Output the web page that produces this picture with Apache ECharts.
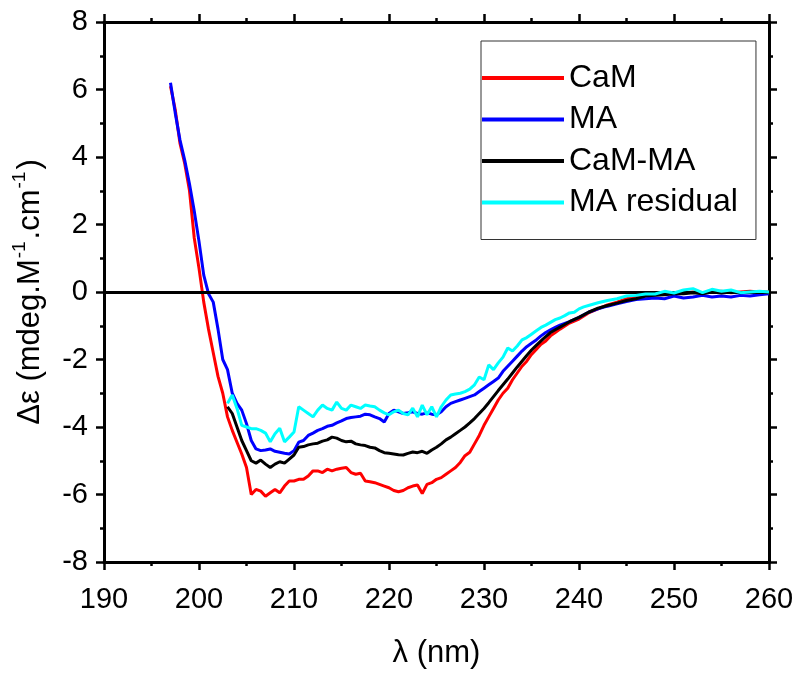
<!DOCTYPE html>
<html>
<head>
<meta charset="utf-8">
<script src="https://cdn.jsdelivr.net/npm/echarts@6/dist/echarts.min.js"></script>
<style>html,body{margin:0;padding:0;background:#fff}#c{width:800px;height:678px}</style>
</head>
<body>
<div id="c"></div>
<script>
const seriesNames = ['CaM', 'MA', 'CaM-MA', 'MA residual'];
const seriesColors = ['#ff0000', '#0000ff', '#000000', '#00ffff'];
const xTicks = [190, 200, 210, 220, 230, 240, 250, 260];
const yTicks = [-8, -6, -4, -2, 0, 2, 4, 6, 8];

const camData = [
[197,6.1],[197.5,5.4],[198,4.4],[198.5,3.8],[199,3.0],[199.5,1.6],[200,0.7],[200.5,-0.3],[201,-1.1],[201.5,-1.8],
[202,-2.5],[202.5,-3.0],[203,-3.7],[203.5,-4.1],[204,-4.45],[204.5,-4.8],[205,-5.2],[205.5,-6.0],[206,-5.85],[206.5,-5.9],
[207,-6.05],[207.5,-5.95],[208,-5.85],[208.5,-5.95],[209,-5.75],[209.5,-5.6],[210,-5.6],[210.5,-5.55],[211,-5.55],[211.5,-5.45],
[212,-5.3],[212.5,-5.3],[213,-5.35],[213.5,-5.25],[214,-5.3],[214.5,-5.25],[215,-5.22],[215.5,-5.2],[216,-5.35],[216.5,-5.4],
[217,-5.37],[217.5,-5.6],[218,-5.62],[218.5,-5.65],[219,-5.7],[219.5,-5.75],[220,-5.8],[220.5,-5.88],[221,-5.92],[221.5,-5.88],
[222,-5.8],[222.5,-5.75],[223,-5.72],[223.5,-5.97],[224,-5.7],[224.5,-5.65],[225,-5.55],[225.5,-5.5],[226,-5.4],[226.5,-5.3],
[227,-5.2],[227.5,-5.05],[228,-4.85],[228.5,-4.75],[229,-4.5],[229.5,-4.25],[230,-3.95],[230.5,-3.7],[231,-3.45],[231.5,-3.2],
[232,-3.0],[232.5,-2.85],[233,-2.6],[233.5,-2.4],[234,-2.2],[234.5,-2.05],[235,-1.85],[235.5,-1.7],[236,-1.55],[236.5,-1.45],
[237,-1.3],[237.5,-1.2],[238,-1.1],[239,-0.92],[240,-0.8],[241,-0.62],[242,-0.5],[243,-0.38],[244,-0.3],[245,-0.2],
[246,-0.15],[247,-0.1],[248,-0.08],[249,-0.05],[250,-0.05],[251,-0.03],[252,0.0],[253,-0.03],[254,0.0],[255,0.02],
[256,-0.02],[257,0.0],[258,0.02],[259,0.0],[260,0.0]
];

const maData = [
[197,6.2],[197.5,5.3],[198,4.5],[198.5,3.9],[199,3.2],[199.5,2.4],[200,1.5],[200.5,0.5],[201,-0.05],[201.5,-0.3],
[202,-1.1],[202.5,-2.0],[203,-2.3],[203.5,-3.0],[204,-3.3],[204.5,-3.5],[205,-3.9],[205.5,-4.4],[206,-4.65],[206.5,-4.7],
[207,-4.68],[207.5,-4.65],[208,-4.72],[208.5,-4.75],[209,-4.78],[209.5,-4.8],[210,-4.7],[210.5,-4.45],[211,-4.4],[211.5,-4.25],
[212,-4.18],[212.5,-4.1],[213,-4.05],[213.5,-3.98],[214,-3.95],[214.5,-3.88],[215,-3.82],[215.5,-3.75],[216,-3.72],[216.5,-3.7],
[217,-3.68],[217.5,-3.62],[218,-3.64],[218.5,-3.7],[219,-3.75],[219.5,-3.85],[220,-3.6],[220.5,-3.5],[221,-3.55],[221.5,-3.6],
[222,-3.58],[222.5,-3.55],[223,-3.6],[223.5,-3.62],[224,-3.58],[224.5,-3.62],[225,-3.64],[225.5,-3.55],[226,-3.4],[226.5,-3.3],
[227,-3.25],[227.5,-3.2],[228,-3.15],[228.5,-3.1],[229,-3.05],[229.5,-2.95],[230,-2.85],[230.5,-2.75],[231,-2.65],[231.5,-2.55],
[232,-2.35],[232.5,-2.2],[233,-2.05],[233.5,-1.9],[234,-1.75],[234.5,-1.62],[235,-1.52],[235.5,-1.42],[236,-1.3],[236.5,-1.2],
[237,-1.12],[237.5,-1.05],[238,-0.98],[239,-0.88],[240,-0.75],[241,-0.6],[242,-0.5],[243,-0.42],[244,-0.35],[245,-0.28],
[246,-0.22],[247,-0.2],[248,-0.18],[249,-0.2],[250,-0.12],[251,-0.18],[252,-0.15],[253,-0.1],[254,-0.15],[255,-0.12],
[256,-0.15],[257,-0.1],[258,-0.12],[259,-0.08],[260,-0.05]
];

const camMaData = [
[203,-3.4],[203.5,-3.6],[204,-4.0],[204.5,-4.4],[205,-4.7],[205.5,-5.0],[206,-5.07],[206.5,-4.98],[207,-5.1],[207.5,-5.2],
[208,-5.1],[208.5,-5.03],[209,-5.07],[209.5,-4.95],[210,-4.83],[210.5,-4.6],[211,-4.58],[211.5,-4.53],[212,-4.5],[212.5,-4.48],
[213,-4.42],[213.5,-4.38],[214,-4.3],[214.5,-4.33],[215,-4.4],[215.5,-4.44],[216,-4.42],[216.5,-4.5],[217,-4.53],[217.5,-4.55],
[218,-4.6],[218.5,-4.62],[219,-4.7],[219.5,-4.76],[220,-4.78],[220.5,-4.8],[221,-4.82],[221.5,-4.83],[222,-4.78],[222.5,-4.74],
[223,-4.76],[223.5,-4.72],[224,-4.78],[224.5,-4.68],[225,-4.6],[225.5,-4.5],[226,-4.38],[226.5,-4.3],[227,-4.2],[227.5,-4.1],
[228,-4.0],[228.5,-3.88],[229,-3.75],[229.5,-3.6],[230,-3.45],[230.5,-3.28],[231,-3.1],[231.5,-2.92],[232,-2.75],[232.5,-2.58],
[233,-2.4],[233.5,-2.22],[234,-2.05],[234.5,-1.88],[235,-1.72],[235.5,-1.58],[236,-1.45],[236.5,-1.32],[237,-1.2],[237.5,-1.12],
[238,-1.04],[239,-0.88],[240,-0.75],[241,-0.6],[242,-0.48],[243,-0.4],[244,-0.33],[245,-0.25],[246,-0.2],[247,-0.12],
[248,-0.1],[249,-0.08],[250,-0.05],[251,-0.05],[252,-0.02],[253,-0.05],[254,0.0],[255,-0.03],[256,0.0],[257,-0.02],
[258,0.0],[259,0.0],[260,-0.02]
];

const maResidualData = [
[203,-3.3],[203.5,-3.05],[204,-3.45],[204.5,-3.95],[205,-4.0],[205.5,-4.05],[206,-4.05],[206.5,-4.1],[207,-4.18],[207.5,-4.44],
[208,-4.2],[208.5,-4.04],[209,-4.44],[209.5,-4.3],[210,-4.15],[210.5,-3.4],[211,-3.5],[211.5,-3.6],[212,-3.7],[212.5,-3.5],
[213,-3.35],[213.5,-3.45],[214,-3.5],[214.5,-3.26],[215,-3.45],[215.5,-3.5],[216,-3.35],[216.5,-3.4],[217,-3.45],[217.5,-3.35],
[218,-3.38],[218.5,-3.4],[219,-3.5],[219.5,-3.58],[220,-3.64],[220.5,-3.55],[221,-3.5],[221.5,-3.6],[222,-3.64],[222.5,-3.44],
[223,-3.7],[223.5,-3.35],[224,-3.64],[224.5,-3.4],[225,-3.7],[225.5,-3.4],[226,-3.2],[226.5,-3.05],[227,-3.02],[227.5,-3.0],
[228,-2.95],[228.5,-2.88],[229,-2.75],[229.5,-2.52],[230,-2.6],[230.5,-2.16],[231,-2.3],[231.5,-2.1],[232,-1.93],[232.5,-1.66],
[233,-1.75],[233.5,-1.6],[234,-1.42],[234.5,-1.35],[235,-1.25],[235.5,-1.15],[236,-1.05],[236.5,-0.98],[237,-0.9],[237.5,-0.82],
[238,-0.77],[238.5,-0.7],[239,-0.62],[239.5,-0.6],[240,-0.5],[240.5,-0.44],[241,-0.4],[242,-0.32],[243,-0.25],[244,-0.2],
[245,-0.12],[246,-0.1],[247,-0.06],[248,-0.06],[249,0.02],[250,-0.03],[251,0.06],[252,0.1],[253,-0.02],[254,0.08],
[255,0.02],[256,0.06],[257,-0.02],[258,0.0],[259,0.02],[260,0.0]
];

const allData = [camData, maData, camMaData, maResidualData];
const FONT = "'Liberation Sans', Arial, sans-serif";

const chart = echarts.init(document.getElementById('c'), null, {renderer: 'canvas'});

function axisCommon(extra) {
  return Object.assign({
    type: 'value',
    axisLine: {show: true, onZero: false, lineStyle: {color: '#000', width: 3}},
    axisTick: {show: true, inside: false, length: 8, lineStyle: {color: '#000', width: 2.5}},
    minorTick: {show: true, splitNumber: 2, length: 4, lineStyle: {color: '#000', width: 2.5}},
    splitLine: {show: false},
    minorSplitLine: {show: false}
  }, extra);
}

const option = {
  animation: false,
  backgroundColor: '#fff',
  grid: {left: 104, right: 31, top: 22, bottom: 116, containLabel: false},
  legend: {
    orient: 'vertical',
    left: 481, top: 41,
    padding: [20, 18, 20, 1],
    itemGap: 7.5,
    itemWidth: 82, itemHeight: 14,
    borderColor: '#333', borderWidth: 1,
    textStyle: {fontFamily: FONT, fontSize: 32, color: '#000', lineHeight: 34},
    data: seriesNames.map(n => ({name: n, icon: 'path://M0,0 L82,0 L82,4 L0,4 Z'}))
  },
  xAxis: [
    axisCommon({
      min: xTicks[0], max: xTicks[xTicks.length - 1], interval: 10, position: 'bottom',
      name: 'λ (nm)', nameLocation: 'middle', nameGap: 76,
      nameTextStyle: {fontFamily: FONT, fontSize: 31, color: '#000'},
      axisLabel: {show: true, margin: 23, fontFamily: FONT, fontSize: 29, color: '#000'}
    }),
    axisCommon({
      min: xTicks[0], max: xTicks[xTicks.length - 1], interval: 10, position: 'top',
      axisLabel: {show: false}
    })
  ],
  yAxis: [
    axisCommon({
      min: yTicks[0], max: yTicks[yTicks.length - 1], interval: 2, position: 'left',
      name: '{a|Δε (mdeg.M}{s|-1}{a|.cm}{s|-1}{a|)}',
      nameLocation: 'middle', nameGap: 58, nameRotate: 90,
      nameTextStyle: {
        fontFamily: FONT, fontSize: 31, color: '#000',
        rich: {
          a: {fontFamily: FONT, fontSize: 31, color: '#000', lineHeight: 36, verticalAlign: 'bottom'},
          s: {fontFamily: FONT, fontSize: 19, color: '#000', lineHeight: 36, verticalAlign: 'top', padding: [0, 2, 0, 1]}
        }
      },
      axisLabel: {show: true, margin: 16, fontFamily: FONT, fontSize: 29, color: '#000'}
    }),
    axisCommon({
      min: yTicks[0], max: yTicks[yTicks.length - 1], interval: 2, position: 'right',
      axisLabel: {show: false}
    })
  ],
  series: seriesNames.map((n, i) => {
    const s = {
      name: n, type: 'line', data: allData[i],
      xAxisIndex: 0, yAxisIndex: 0,
      symbol: 'none', showSymbol: false,
      lineStyle: {color: seriesColors[i], width: 3},
      itemStyle: {color: seriesColors[i]},
      z: 3 + i
    };
    if (i === 0) {
      s.markLine = {
        silent: true, symbol: 'none', label: {show: false},
        lineStyle: {color: '#000', width: 3, type: 'solid'},
        data: [{yAxis: 0}]
      };
    }
    return s;
  })
};
chart.setOption(option);
</script>
</body>
</html>
